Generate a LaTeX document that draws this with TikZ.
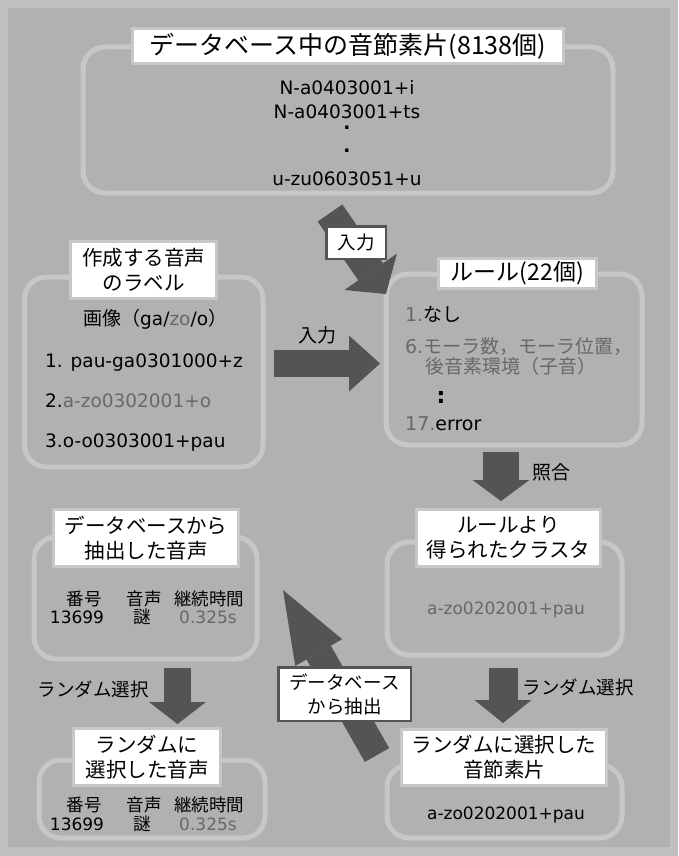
\documentclass[tikz,border=0pt]{standalone}
\usepackage{fontspec}
\setmainfont{Noto Sans CJK JP}
\newfontfamily\latin{DejaVu Sans}
\usepackage{tikz}
\usetikzlibrary{arrows.meta}
\definecolor{outerbg}{RGB}{192,192,192}
\definecolor{innerbg}{RGB}{177,177,177}
\definecolor{framecol}{RGB}{199,199,199}
\definecolor{arrowcol}{RGB}{84,84,84}
\definecolor{dimcol}{RGB}{104,104,104}
\newcommand{\fsz}[2]{\fontsize{#1}{#2}\selectfont}

\begin{document}
\begin{tikzpicture}[
    x=1pt, y=-1pt,
    boxframe/.style={draw=framecol, line width=5pt, rounded corners=22pt,
                     inner sep=0pt},
    tagbox/.style={fill=white, draw=framecol, line width=3pt, inner sep=0pt,
                   align=center, font=\fsz{20.5}{25}},
    flowtag/.style={fill=white, draw=arrowcol, line width=2.5pt, inner sep=0pt,
                    align=center, font=\fsz{18.5}{24}},
    blockarrow/.style n args={3}{draw=arrowcol, line width=#1,
        -{Triangle[length=#2, width=#3, line width=0pt]}},
    segtext/.style={font=\latin\fsz{18.5}{22}, inner sep=0pt},
    notetext/.style={font=\fsz{19}{22}, inner sep=0pt},
    celltext/.style={font=\fsz{17.5}{20}, inner sep=0pt, anchor=base},
    numtext/.style={font=\latin\fsz{17}{20}, inner sep=0pt, anchor=base},
]

% ════════════════════════════════════════════════════════
% 0. BACKGROUND
% ════════════════════════════════════════════════════════
\fill[outerbg] (0,0) rectangle (678,856);
\fill[innerbg] (8,8) rectangle (670,847);

% ════════════════════════════════════════════════════════
% 1. FRAMES
% ════════════════════════════════════════════════════════
\node[boxframe, minimum width=530pt, minimum height=146pt] (dbbox) at (348,120) {};
\node[boxframe, minimum width=238.5pt, minimum height=190pt] (labelbox) at (143.75,372) {};
\node[boxframe, minimum width=256pt, minimum height=171pt] (rulebox) at (514,359.5) {};
\node[boxframe, minimum width=235pt, minimum height=113pt] (clusterbox) at (504.5,598.5) {};
\node[boxframe, minimum width=235pt, minimum height=73pt] (pickbox) at (504.5,801.5) {};
\node[boxframe, minimum width=223pt, minimum height=122pt] (extractbox) at (145.5,598) {};
\node[boxframe, minimum width=226pt, minimum height=78pt] (chosenbox) at (152,799) {};

% ════════════════════════════════════════════════════════
% 2. BLOCK ARROWS
% ════════════════════════════════════════════════════════
\coordinate (feedtail) at (330,213);
\coordinate (feedtip)  at (386,294);
\coordinate (labtail)  at (274,363.5);
\coordinate (labtip)   at (380,363.5);
\coordinate (matchtail) at (501,452);
\coordinate (matchtip)  at (501,501);
\coordinate (picktail) at (503,668);
\coordinate (picktip)  at (503,723);
\coordinate (chosetail) at (177.5,668);
\coordinate (chosetip)  at (177.5,724);
\coordinate (pulltail) at (377,755);
\coordinate (pulltip)  at (283,590);

\draw[blockarrow={30pt}{27pt}{64pt}] (feedtail) -- (feedtip);
\draw[blockarrow={27pt}{31pt}{56pt}] (labtail) -- (labtip);
\draw[blockarrow={36pt}{21pt}{57pt}] (matchtail) -- (matchtip);
\draw[blockarrow={29pt}{23pt}{57pt}] (picktail) -- (picktip);
\draw[blockarrow={27pt}{22pt}{57pt}] (chosetail) -- (chosetip);
\draw[blockarrow={28pt}{72pt}{54pt}] (pulltail) -- (pulltip);

% ════════════════════════════════════════════════════════
% 3. TITLE TAGS
% ════════════════════════════════════════════════════════
\node[tagbox, font=\fsz{25}{30}, minimum width=431pt, minimum height=35pt]
    (dbtitle) at (348,46) {データベース中の音節素片(8138個)};
\node[tagbox, minimum width=146pt, minimum height=57pt]
    (labeltitle) at (143.5,270) {作成する音声\\のラベル};
\node[tagbox, font=\fsz{23}{28}, minimum width=158pt, minimum height=30pt]
    (ruletitle) at (517.5,273.5) {ルール(22個)};
\node[tagbox, minimum width=184pt, minimum height=57pt]
    (clustertitle) at (508.5,538) {ルールより\\得られたクラスタ};
\node[tagbox, minimum width=205pt, minimum height=56pt]
    (picktitle) at (504,757.5) {ランダムに選択した\\音節素片};
\node[tagbox, minimum width=185pt, minimum height=57pt]
    (extracttitle) at (146,538) {データベースから\\抽出した音声};
\node[tagbox, minimum width=147pt, minimum height=57pt]
    (chosentitle) at (147,757) {ランダムに\\選択した音声};

% arrow tags
\node[flowtag, minimum width=59.5pt, minimum height=32.5pt]
    (feedtag) at (356,242.5) {入力};
\node[flowtag, minimum width=132.5pt, minimum height=53.5pt]
    (pulltag) at (344.5,694) {データベース\\から抽出};

% arrow labels
\node[notetext, anchor=base] (lablabel) at (317.5,342) {入力};
\node[notetext, anchor=base] (matchlabel) at (551,479) {照合};
\node[notetext, font=\fsz{18.5}{22}, anchor=base] (chooselabel) at (93,696) {ランダム選択};
\node[notetext, font=\fsz{18.5}{22}, anchor=base] (picklabel) at (578,694) {ランダム選択};

% ════════════════════════════════════════════════════════
% 4. BOX CONTENTS
% ════════════════════════════════════════════════════════
% database segments
\node[segtext, anchor=base] (seg1) at (347,95) {N-a0403001+i};
\node[segtext, anchor=base] (seg2) at (347,118) {N-a0403001+ts};
\node[segtext, font=\latin\bfseries\fsz{18.5}{22.5}, align=center, anchor=north]
    (segdots) at (347,126) {.\\.};
\node[segtext, anchor=base] (seg3) at (347,185) {u-zu0603051+u};

% labels of the voice to build
\node[notetext, anchor=base west] (labhead) at (83,325)
    {画像（{\latin\fsz{18.5}{22}ga/\textcolor{dimcol}{zo}/o}）};
\node[segtext, anchor=base west] (lab1) at (45,367) {1. pau-ga0301000+z};
\node[segtext, anchor=base west] (lab2) at (45,407) {2.\textcolor{dimcol}{a-zo0302001+o}};
\node[segtext, anchor=base west] (lab3) at (45,447) {3.o-o0303001+pau};

% rules
\node[notetext, anchor=base west] (rule1) at (405,321)
    {\textcolor{dimcol}{\latin 1.}なし};
\node[notetext, anchor=base west, text=dimcol] (rule6) at (405,353)
    {{\latin 6.}モーラ数，モーラ位置，};
\node[notetext, anchor=base west, text=dimcol] (rule6b) at (425,373)
    {後音素環境（子音）};
\node[notetext, font=\latin\bfseries\fsz{22}{24}, anchor=base] (ruledots) at (441,403) {:};
\node[notetext, anchor=base west] (rule17) at (405,430)
    {{\latin\textcolor{dimcol}{17.}error}};

% cluster and picked segment
\node[numtext, text=dimcol] (clusterseg) at (506,614) {a-zo0202001+pau};
\node[numtext] (pickseg) at (506,819) {a-zo0202001+pau};

% extracted / chosen voice tables
\foreach \hy/\vy/\tb in {605/623/ext, 811/830/cho}{
    \node[celltext] (\tb-nohead)  at (84,\hy)  {番号};
    \node[celltext] (\tb-voxhead) at (144,\hy) {音声};
    \node[celltext] (\tb-durhead) at (209,\hy) {継続時間};
    \node[numtext]  (\tb-no)  at (77,\vy)  {13699};
    \node[celltext] (\tb-vox) at (142,\vy) {謎};
    \node[numtext, text=dimcol] (\tb-dur) at (208,\vy) {0.325s};
}

\end{tikzpicture}
\end{document}
